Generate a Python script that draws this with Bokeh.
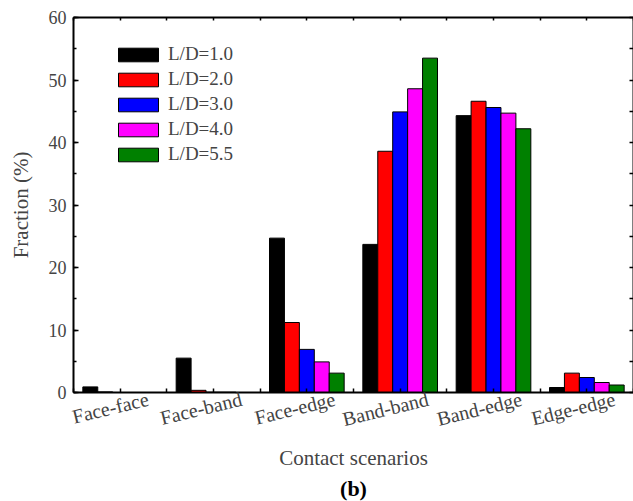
from bokeh.plotting import figure
from bokeh.models import (ColumnDataSource, Range1d, LinearAxis, FixedTicker,
                          SingleIntervalTicker, Legend, LegendItem, Title)
from bokeh.transform import dodge
from bokeh.embed import file_html
from bokeh.resources import INLINE

categories = ["Face-face", "Face-band", "Face-edge", "Band-band", "Band-edge", "Edge-edge"]
series_names = ["L/D=1.0", "L/D=2.0", "L/D=3.0", "L/D=4.0", "L/D=5.5"]
ld_1_0 = [0.9, 5.5, 24.7, 23.7, 44.3, 0.8]
ld_2_0 = [0.1, 0.35, 11.2, 38.6, 46.6, 3.1]
ld_3_0 = [0.0, 0.05, 6.9, 44.9, 45.6, 2.4]
ld_4_0 = [0.0, 0.05, 4.9, 48.6, 44.7, 1.6]
ld_5_5 = [0.0, 0.0, 3.1, 53.5, 42.2, 1.2]
colors = ["#000000", "#FF0000", "#0000FF", "#FF00FF", "#008000"]
y_ticks_interval = 10

FONT = "Liberation Serif"
n = len(categories)
centers = [i + 0.5 for i in range(n)]
src = ColumnDataSource(dict(x=centers, s0=ld_1_0, s1=ld_2_0, s2=ld_3_0, s3=ld_4_0, s4=ld_5_5))

p = figure(width=633, height=501, output_backend="svg", toolbar_location=None,
           x_range=Range1d(0, n), y_range=Range1d(0, 60),
           min_border_left=73, min_border_right=0, min_border_top=17, min_border_bottom=109,
           x_axis_location=None, y_axis_location=None)
p.grid.visible = False
p.outline_line_color = None
p.background_fill_color = "white"
p.border_fill_color = "white"

bw = 0.16
offsets = [-2 * bw, -bw, 0, bw, 2 * bw]
items = []
for k, (name, col) in enumerate(zip(series_names, colors)):
    r = p.vbar(x=dodge("x", offsets[k], range=p.x_range), top="s%d" % k, width=bw,
               source=src, fill_color=col, line_color="black", line_width=1)
    items.append(LegendItem(label=name, renderers=[r]))

def style(ax, in_len=5, minor_len=3):
    ax.axis_line_width = 2
    ax.axis_line_color = "black"
    ax.major_tick_in = in_len
    ax.major_tick_out = 0
    ax.minor_tick_in = minor_len
    ax.minor_tick_out = 0
    ax.major_tick_line_width = 1.5
    ax.minor_tick_line_width = 1.5

# left axis
yl = LinearAxis(ticker=SingleIntervalTicker(interval=y_ticks_interval, num_minor_ticks=2),
                axis_label="Fraction (%)")
style(yl)
yl.major_label_text_font = FONT
yl.major_label_text_font_size = "18px"
yl.major_label_standoff = 7
yl.axis_label_text_font = FONT
yl.axis_label_text_font_size = "21px"
yl.axis_label_text_font_style = "normal"
yl.axis_label_standoff = 13
p.add_layout(yl, "left")

# right axis (tick marks only)
yr = LinearAxis(ticker=FixedTicker(ticks=[], minor_ticks=list(range(0, 61, 5))))
style(yr, 0, 4)
p.add_layout(yr, "right")

half_ticks = [i * 0.5 for i in range(2 * n + 1)]
# bottom axis: rotated labels end near each group's right side (Origin-style)
label_pos = [round(c + 0.30, 2) for c in centers]
xb = LinearAxis(ticker=FixedTicker(ticks=label_pos, minor_ticks=half_ticks),
                axis_label="Contact scenarios")
style(xb, 0, 4)
xb.major_tick_line_color = None
xb.major_label_overrides = {pos: cat for pos, cat in zip(label_pos, categories)}
xb.major_label_orientation = 0.24
xb.major_label_standoff = 6
xb.major_label_text_font = FONT
xb.major_label_text_font_size = "20px"
xb.axis_label_text_font = FONT
xb.axis_label_text_font_size = "21px"
xb.axis_label_text_font_style = "normal"
xb.axis_label_standoff = 2
p.add_layout(xb, "below")

# top axis (tick marks only)
xt = LinearAxis(ticker=FixedTicker(ticks=[], minor_ticks=half_ticks))
style(xt, 0, 3)
p.add_layout(xt, "above")

# panel caption
cap = Title(text="(b)", align="center", text_font=FONT, text_font_size="22px",
            text_font_style="bold", text_color="black", standoff=2)
p.add_layout(cap, "below")

leg = Legend(items=items, location=(40, 227), orientation="vertical",
             glyph_width=50, glyph_height=17, label_height=17, spacing=3,
             padding=0, margin=0, border_line_color=None, background_fill_alpha=0,
             label_text_font=FONT, label_text_font_size="19px", label_standoff=5)
p.add_layout(leg, "center")

open("out.html", "w").write(file_html(p, INLINE))
